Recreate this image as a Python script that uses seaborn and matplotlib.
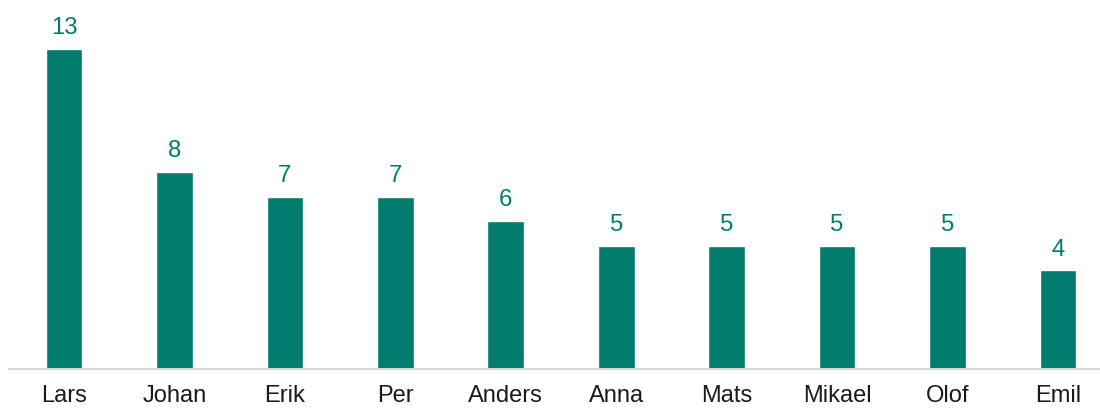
import matplotlib
matplotlib.use("Agg")
import matplotlib.pyplot as plt
import seaborn as sns
import pandas as pd

names = ["Lars", "Johan", "Erik", "Per", "Anders", "Anna", "Mats", "Mikael", "Olof", "Emil"]
counts = [13, 8, 7, 7, 6, 5, 5, 5, 5, 4]

sns.set_theme(style="white")
plt.rcParams["font.family"] = ["Liberation Sans", "DejaVu Sans"]

teal = "#017C6D"
df = pd.DataFrame({"name": names, "count": counts})

fig = plt.figure(figsize=(11, 4.08), dpi=100)
ax = fig.add_axes([0.008, 0.096, 1.004, 0.784])

sns.barplot(data=df, x="name", y="count", color=teal, width=0.333,
            saturation=1, ax=ax)

for i, v in enumerate(counts):
    ax.annotate(str(v), (i, v), xytext=(0, 7), textcoords="offset points",
                ha="center", va="bottom", fontsize=17.2, color=teal)

ax.set_ylim(0, 13)
ax.set_xlim(-0.5, len(names) - 0.5)
ax.set_xlabel("")
ax.set_ylabel("")
ax.set_yticks([])
ax.tick_params(axis="x", length=0, labelsize=17, labelcolor="#1a1a1a", pad=12)
for s in ["top", "right", "left"]:
    ax.spines[s].set_visible(False)
ax.spines["bottom"].set_color("#D9D9D9")
ax.spines["bottom"].set_linewidth(1.5)

fig.savefig("out.png", dpi=100)
